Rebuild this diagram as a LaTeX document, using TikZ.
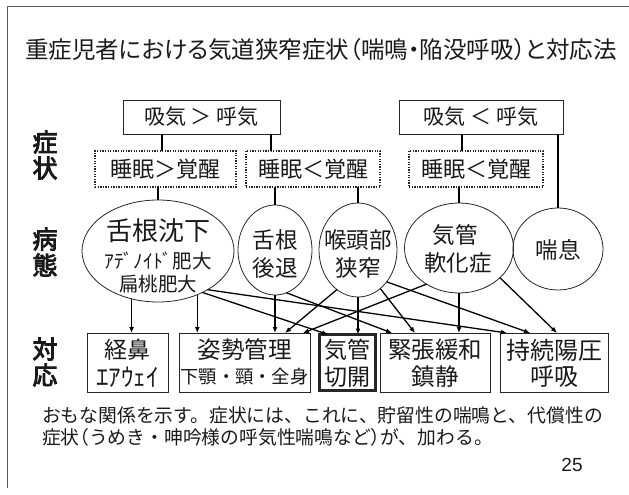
\documentclass[tikz,border=0pt]{standalone}
\usepackage{fontspec}
\setmainfont{Noto Sans CJK JP}
\newfontfamily\jpbold[FakeBold=3.5]{Noto Sans CJK JP}
\newfontfamily\jppalt[RawFeature=+palt]{Noto Sans CJK JP}
\newfontfamily\latsans{Liberation Sans}
\usetikzlibrary{shapes.geometric,arrows.meta}
\newcommand\setpx[1]{\fontsize{#1}{#1}\selectfont}
\begin{document}
\begin{tikzpicture}[x=1pt,y=-1pt,
  every node/.style={inner sep=0pt, outer sep=0pt, text=black!90},
  lbl/.style={font=\jpbold\fontsize{25}{26}\selectfont, align=center},
  topbox/.style={draw=black!85, line width=0.9pt, minimum height=34pt, font=\setpx{21}},
  dotbox/.style={draw=black!85, line width=1.3pt, dash pattern=on 1.3pt off 1.3pt, minimum height=36pt, font=\setpx{22}},
  ell/.style={draw=black!85, ellipse, line width=0.8pt},
  rbox/.style={draw=black!85, line width=0.9pt, minimum height=59pt},
  conn/.style={draw=black, line width=1.3pt},
  arr/.style={draw=black, line width=1.3pt, -{Latex[length=6pt,width=5pt]}}
]
\useasboundingbox (0,0) rectangle (629,495);
\draw[black!65, line width=1pt] (7,488) -- (7,7) -- (629,7);

\node[font=\jppalt\setpx{23.5}] (title) at (321,50) {重症児者における気道狭窄症状（喘鳴・陥没呼吸）と対応法};

\node[lbl] (L1) at (45,155) {症\\状};
\node[lbl] (L2) at (45,252) {病\\態};
\node[lbl] (L3) at (45,362) {対\\応};

\node[topbox, minimum width=157pt] (B1) at (201.5,117) {吸気 ＞ 呼気};
\node[topbox, minimum width=164pt] (B2) at (481,117) {吸気 ＜ 呼気};

\node[dotbox, minimum width=141pt] (D1) at (165.5,169) {睡眠＞覚醒};
\node[dotbox, minimum width=134pt] (D2) at (313,169) {睡眠＜覚醒};
\node[dotbox, minimum width=134pt] (D3) at (476,169) {睡眠＜覚醒};

\node[ell, minimum width=152pt, minimum height=102pt] (E1) at (158,251) {};
\node[ell, minimum width=74pt, minimum height=90pt] (E2) at (275,250) {};
\node[ell, minimum width=78pt, minimum height=94pt] (E3) at (358,250) {};
\node[ell, minimum width=109pt, minimum height=90pt] (E4) at (459,248) {};
\node[ell, minimum width=90pt, minimum height=82pt] (E5) at (558,249) {};

\node[font=\setpx{26}] (T1a) at (158,231) {舌根沈下};
\node[font=\setpx{19.5}] (T1b) at (158,261) {ｱﾃﾞﾉｲﾄﾞ肥大};
\node[font=\setpx{19.5}] (T1c) at (158,284) {扁桃肥大};
\node[font=\setpx{22.5}] (T2a) at (275,240) {舌根};
\node[font=\setpx{22.5}] (T2b) at (275,268) {後退};
\node[font=\setpx{22.5}] (T3a) at (358,240) {喉頭部};
\node[font=\setpx{22.5}] (T3b) at (358,268) {狭窄};
\node[font=\setpx{22.5}] (T4a) at (455,235) {気管};
\node[font=\setpx{22.5}] (T4b) at (458,263) {軟化症};
\node[font=\setpx{22.5}] (T5) at (558,250) {喘息};

\node[rbox, minimum width=81pt] (R1) at (127.5,362.5) {};
\node[rbox, minimum width=131pt] (R2) at (244.5,362.5) {};
\node[rbox, line width=3pt, minimum width=56pt, minimum height=56pt] (R3) at (347.5,362.5) {};
\node[rbox, minimum width=110pt] (R4) at (435,362.5) {};
\node[rbox, minimum width=108pt] (R5) at (554,362.5) {};

\node[font=\setpx{23}] (S1a) at (127.5,350) {経鼻};
\node[font=\setpx{25}] (S1b) at (127.5,377) {ｴｱｳｪｲ};
\node[font=\setpx{23.5}] (S2a) at (244.5,350) {姿勢管理};
\node[font=\setpx{18.3}] (S2b) at (244.5,377) {下顎・頸・全身};
\node[font=\setpx{23}] (S3a) at (347.5,350) {気管};
\node[font=\setpx{23}] (S3b) at (347.5,377) {切開};
\node[font=\setpx{23.5}] (S4a) at (435,350) {緊張緩和};
\node[font=\setpx{23.5}] (S4b) at (435,377) {鎮静};
\node[font=\setpx{24}] (S5a) at (554,350) {持続陽圧};
\node[font=\setpx{24}] (S5b) at (554,377) {呼吸};

\node[anchor=west, font=\setpx{18.8}] (C1) at (42,415) {おもな関係を示す。症状には、これに、貯留性の喘鳴と、代償性の};
\node[anchor=west, font=\setpx{18.8}] (C2) at (42,437) {症状{\jppalt（}うめき・呻吟様の呼気性喘鳴など{\jppalt ）}が、加わる。};
\node[font=\latsans\setpx{19}] (pg) at (572,465) {25};

\draw[conn] (B1.south -| 162,0) -- (D1.north -| 162,0);
\draw[conn] (B1.south -| 271,0) -- (D2.north -| 271,0);
\draw[conn] (B2.south -| 462,0) -- (D3.north -| 462,0);
\draw[conn] (B2.south -| E5.north) -- (E5.north);
\draw[conn] (D1.south -| E1.north) -- (E1.north);
\draw[conn] (D2.south -| E2.north) -- (E2.north);
\draw[conn] (D2.south -| E3.north) -- (E3.north);
\draw[conn] (D3.south -| E4.north) -- (E4.north);

\draw[arr] (E1.241.5) -- (R1.north -| E1.241.5);
\draw[arr] (E1.312.7) -- (R2.north -| E1.312.7);
\draw[arr] (E2.south) -- (R2.north -| E2.south);
\draw[arr] (E3.242) -- (R2.north -| 285,0);
\draw[arr] (E4.228.7) -- (R2.north -| 303,0);
\draw[arr] (E1.317.6) -- (R3.north -| 328,0);
\draw[arr] (E3.south) -- (R3.north -| E3.south);
\draw[arr] (E2.285) -- (R4.north -| 392,0);
\draw[arr] (E3.300) -- (R4.north -| 415,0);
\draw[arr] (E4.south) -- (R4.north -| E4.south);
\draw[arr] (E1.322.5) -- (R5.north -| 507,0);
\draw[arr] (E3.312) -- (R5.north -| 530,0);
\draw[arr] (E4.324.2) -- (R5.north -| 557,0);
\end{tikzpicture}
\end{document}
